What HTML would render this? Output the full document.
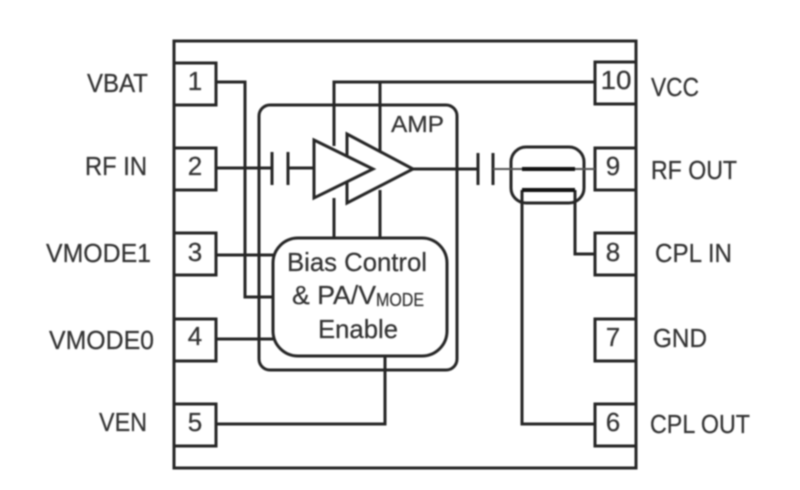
<!DOCTYPE html>
<html>
<head>
<meta charset="utf-8">
<style>
html,body{margin:0;padding:0;background:#fff;width:800px;height:490px;overflow:hidden}
svg{display:block;filter:blur(0.7px)}
text{font-family:"Liberation Sans",sans-serif;fill:#333;font-size:26px;stroke:#333;stroke-width:0.25px}
.l{fill:none;stroke:#262626;stroke-width:3}
</style>
</head>
<body>
<svg width="800" height="490" viewBox="0 0 800 490" xmlns="http://www.w3.org/2000/svg">
<rect width="800" height="490" fill="#fff"/>
<rect class="l" x="174" y="41" width="462" height="427"/>
<g class="l">
<rect x="174" y="63" width="42" height="42"/>
<rect x="174" y="148" width="42" height="42"/>
<rect x="174" y="233" width="42" height="42"/>
<rect x="174" y="319" width="42" height="42"/>
<rect x="174" y="404" width="42" height="42"/>
<rect x="595" y="62" width="41" height="42"/>
<rect x="595" y="148" width="41" height="42"/>
<rect x="595" y="233" width="41" height="42"/>
<rect x="595" y="319" width="41" height="42"/>
<rect x="595" y="404" width="41" height="42"/>
<rect x="259" y="105" width="198" height="265" rx="11"/>
<path d="M216 82H245V297H273"/>
<path d="M216 168H272"/>
<path d="M272 152V185M288 152V185M288 168H314"/>
<path d="M334 146V82H595M380 151V82"/>
<path d="M334 198V238M380 190V238"/>
<path d="M413 169H478M478 153V185M493 153V185"/>
<path d="M216 255H273M216 339H273"/>
<path d="M216 424H385V356"/>
<path d="M522 190V424H595"/>
<path d="M575 190V254H595"/>
<rect x="511" y="147" width="73" height="56" rx="15"/>
</g>
<path d="M493 169H595" fill="none" stroke="#555" stroke-width="2"/>
<path d="M522 169H575M522 190H575" fill="none" stroke="#111" stroke-width="4"/>
<rect class="l" x="273" y="238" width="174" height="118" rx="25" style="fill:#fff"/>
<path d="M334 238V198M380 238V190" class="l"/>
<path class="l" d="M347 134L413 169L347 203Z" style="fill:#fff"/>
<path class="l" d="M314 140L373 169L314 198Z" style="fill:#fff"/>

<text x="87" y="92" textLength="61" lengthAdjust="spacingAndGlyphs">VBAT</text>
<text x="85" y="175" textLength="62" lengthAdjust="spacingAndGlyphs">RF IN</text>
<text x="46" y="262" textLength="105" lengthAdjust="spacingAndGlyphs">VMODE1</text>
<text x="49" y="349" textLength="105" lengthAdjust="spacingAndGlyphs">VMODE0</text>
<text x="99" y="431" textLength="48" lengthAdjust="spacingAndGlyphs">VEN</text>

<text x="651" y="96" textLength="48" lengthAdjust="spacingAndGlyphs">VCC</text>
<text x="651" y="179" textLength="86" lengthAdjust="spacingAndGlyphs">RF OUT</text>
<text x="655" y="262" textLength="77" lengthAdjust="spacingAndGlyphs">CPL IN</text>
<text x="653" y="347" textLength="54" lengthAdjust="spacingAndGlyphs">GND</text>
<text x="650" y="433" textLength="100" lengthAdjust="spacingAndGlyphs">CPL OUT</text>

<g text-anchor="middle">
<text x="195" y="90">1</text>
<text x="195" y="175">2</text>
<text x="195" y="261">3</text>
<text x="195" y="345">4</text>
<text x="195" y="431">5</text>
<text x="616" y="89" textLength="31" lengthAdjust="spacingAndGlyphs">10</text>
<text x="613" y="175">9</text>
<text x="613" y="261">8</text>
<text x="613" y="346">7</text>
<text x="613" y="431">6</text>
</g>

<text x="391" y="132" textLength="53" lengthAdjust="spacingAndGlyphs" style="font-size:23px">AMP</text>
<text x="287" y="271" textLength="140" lengthAdjust="spacingAndGlyphs">Bias Control</text>
<text x="292" y="304" textLength="84" lengthAdjust="spacingAndGlyphs">&amp; PA/V</text>
<text x="376" y="306" textLength="48" lengthAdjust="spacingAndGlyphs" style="font-size:18px">MODE</text>
<text x="318" y="338" textLength="80" lengthAdjust="spacingAndGlyphs">Enable</text>
</svg>
</body>
</html>
